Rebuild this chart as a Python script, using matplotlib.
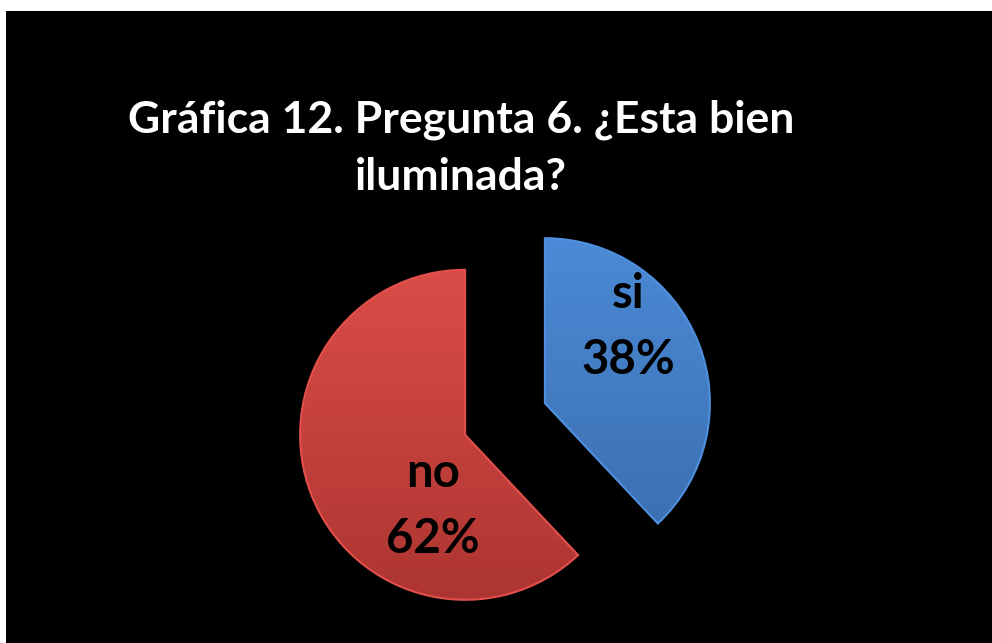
import numpy as np
import matplotlib.pyplot as plt
from matplotlib.colors import to_rgb, to_hex
from matplotlib.patches import Rectangle

labels = ['si', 'no']
values = [38, 62]
colors_top = ['#4b8ad6', '#da4c48']
colors_bottom = ['#3a6cab', '#ad3531']
title_lines = ['Gráfica 12. Pregunta 6. ¿Esta bien', 'iluminada?']

W, H = 992, 643
fig = plt.figure(figsize=(W / 100, H / 100), dpi=100, facecolor='white')

ax = fig.add_axes([0, 0, 1, 1])
ax.set_facecolor('none')

R = 165
cx, cy = 505, 224
# explode is an absolute offset in data units here
wedges, _ = ax.pie(values, startangle=90, counterclock=False, radius=R, center=(cx, cy),
                   explode=[0.26 * R, 0.26 * R], colors=colors_top,
                   wedgeprops=dict(edgecolor='none'))
ax.add_patch(Rectangle((6, 0), W - 6, H - 11, facecolor='black', edgecolor='none', zorder=-5))

# vertical gradient inside each slice for the bevelled look
for w, ct, cb in zip(wedges, colors_top, colors_bottom):
    x0, y0 = w.center
    c1 = np.array(to_rgb(ct))
    c2 = np.array(to_rgb(cb))
    t = np.linspace(0, 1, 256)[:, None]
    grad = (c1 * (1 - t) + c2 * t)[:, None, :]
    grad = np.repeat(grad, 2, axis=1)
    im = ax.imshow(grad, extent=(x0 - R, x0 + R, y0 - R, y0 + R), origin='upper',
                   aspect='auto', zorder=2)
    im.set_clip_path(w)
    w.set_facecolor('none')
    w.set_edgecolor(to_hex(np.clip(c1 * 1.04, 0, 1)))
    w.set_linewidth(1.5)
    w.set_zorder(3)

ax.set_xlim(0, W)
ax.set_ylim(0, H)
ax.set_aspect('equal')
ax.axis('off')

# slice labels placed relative to each slice's own center
label_offsets = [(110, 41), (82, 247)]
for w, lab, v, (d, a) in zip(wedges, labels, values, label_offsets):
    x0, y0 = w.center
    lx = x0 + d * np.cos(np.radians(a))
    ly = y0 + d * np.sin(np.radians(a)) - 10
    ax.text(lx, ly + 33, lab, ha='center', va='baseline', fontsize=34,
            fontweight='bold', family='Lato', color='black', zorder=5)
    ax.text(lx, ly - 33, '%d%%' % v, ha='center', va='baseline', fontsize=34,
            fontweight='bold', family='Lato', color='black', zorder=5)

ax.text(461, H - 133, title_lines[0], ha='center', va='baseline', fontsize=32,
        fontweight='bold', family='Lato', color='white', zorder=5)
ax.text(461, H - 190, title_lines[1], ha='center', va='baseline', fontsize=32,
        fontweight='bold', family='Lato', color='white', zorder=5)

fig.savefig('out.png', dpi=100, facecolor='white')
